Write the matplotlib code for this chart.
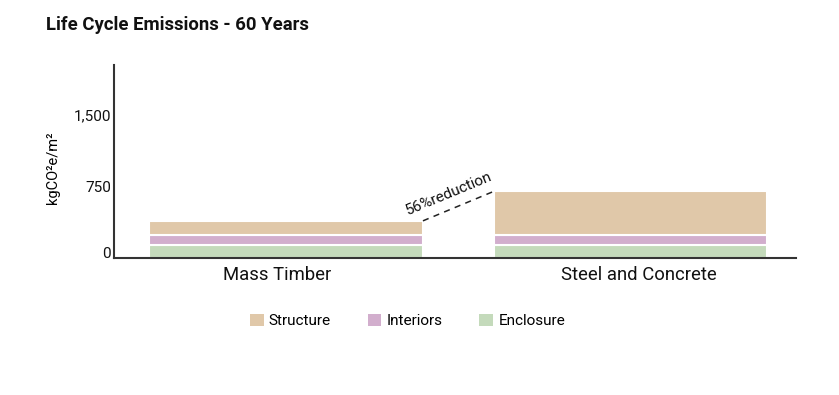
import matplotlib
matplotlib.use("Agg")
import matplotlib.pyplot as plt
from matplotlib.patches import Patch
from matplotlib.transforms import ScaledTranslation
import numpy as np

plt.rcParams['font.family'] = ['Roboto', 'DejaVu Sans']

categories = ["Mass Timber", "Steel and Concrete"]
series_names = ["Enclosure", "Interiors", "Structure"]
enclosure = [140, 140]
interiors = [105, 105]
structure = [145, 455]
yticks = [0, 750, 1500]
ytick_labels = ["0", "750", "1,500"]
colors = {"Structure": "#E0C8A9", "Interiors": "#D2AECD", "Enclosure": "#C4DABB"}
annotation = "56%reduction"

fig = plt.figure(figsize=(8.39, 3.95), dpi=100)
ax = fig.add_axes([0.1359, 0.3468, 0.8128, 0.4886])

x = np.arange(len(categories))
width = 0.794
bottom = np.zeros(len(categories))
values = {"Enclosure": enclosure, "Interiors": interiors, "Structure": structure}
for name in series_names:
    v = np.array(values[name])
    ax.bar(x, v, width, bottom=bottom, color=colors[name], edgecolor="white", linewidth=1.5)
    bottom = bottom + v

totals = bottom
# dashed connector between bars
x0 = x[0] + width / 2
x1 = x[1] - width / 2
ax.plot([x0, x1], [totals[0], totals[1]], linestyle=(0, (4, 3.5)), color="#222222", linewidth=1.1)

ax.set_xlim(-0.5, 1.48)
ax.set_ylim(0, 2025)
ax.set_yticks(yticks)
ax.set_yticklabels(ytick_labels)
ax.set_xticks(x)
ax.set_xticklabels(categories, fontsize=13.3)
ax.tick_params(axis='y', length=0, pad=2, labelsize=11, colors="#111111")
ax.tick_params(axis='x', length=0, pad=6, colors="#111111")
ax.get_yticklabels()[0].set_va("baseline")
dx_offsets = [-9, 8]
for lab, d in zip(ax.get_xticklabels(), dx_offsets):
    lab.set_transform(lab.get_transform() + ScaledTranslation(d / 100, 0, fig.dpi_scale_trans))
for s in ["top", "right"]:
    ax.spines[s].set_visible(False)
for s in ["left", "bottom"]:
    ax.spines[s].set_color("#333333")
    ax.spines[s].set_linewidth(1.5)
ax.set_ylabel("kgCO²e/m²", fontsize=10.5)
ax.yaxis.set_label_coords(-54 / 682, 0.47)

# annotation text along the connector
fig.canvas.draw()
p0 = ax.transData.transform((x0, totals[0]))
p1 = ax.transData.transform((x1, totals[1]))
angle = np.degrees(np.arctan2(p1[1] - p0[1], p1[0] - p0[0]))
ax.annotate(annotation, xy=((x0 + x1) / 2, (totals[0] + totals[1]) / 2),
            xytext=(-10, 12), textcoords="offset pixels", rotation=angle,
            rotation_mode="anchor", ha="center", va="center", fontsize=11, color="#111111")

fig.text(46 / 839, 1 - 25 / 395, "Life Cycle Emissions - 60 Years", fontsize=13.3,
         fontweight="bold", ha="left", va="center", color="#111111")

handles = [Patch(facecolor=colors[n], edgecolor="none") for n in ["Structure", "Interiors", "Enclosure"]]
fig.legend(handles, ["Structure", "Interiors", "Enclosure"], loc="center",
           bbox_to_anchor=(407.5 / 839, 1 - 321 / 395), ncol=3, frameon=False,
           fontsize=11, handlelength=0.9, handleheight=0.9, columnspacing=2.4, handletextpad=0.35)

fig.savefig("out.png", dpi=100)
